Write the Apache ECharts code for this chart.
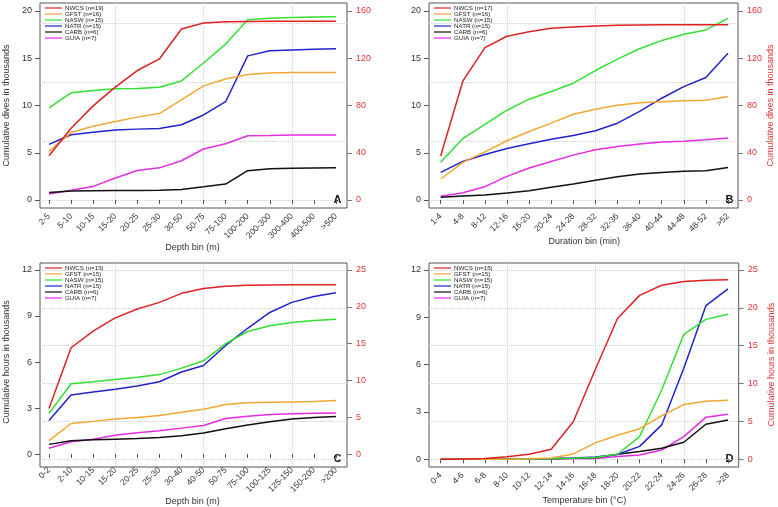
<!DOCTYPE html>
<html>
<head>
<meta charset="utf-8">
<script src="https://cdn.jsdelivr.net/npm/echarts@6/dist/echarts.min.js"></script>
<style>
html,body{margin:0;padding:0;background:#fff;}
#chart{width:778px;height:507px;}
</style>
</head>
<body>
<div id="chart"></div>
<script>
// ---------- categories ----------
var catsA = ['2-5','5-10','10-15','15-20','20-25','25-30','30-50','50-75','75-100','100-200','200-300','300-400','400-500','>500'];
var catsB = ['1-4','4-8','8-12','12-16','16-20','20-24','24-28','28-32','32-36','36-40','40-44','44-48','48-52','>52'];
var catsC = ['0-2','2-10','10-15','15-20','20-25','25-30','30-40','40-50','50-75','75-100','100-125','125-150','150-200','>200'];
var catsD = ['0-4','4-6','6-8','8-10','10-12','12-14','14-16','16-18','18-20','20-22','22-24','24-26','26-28','>28'];

// ---------- legend names ----------
var namesA = ['NWCS (n=19)','GFST (n=16)','NASW (n=15)','NATR (n=15)','CARB (n=6)','GUIA (n=7)'];
var namesB = ['NWCS (n=17)','GFST (n=16)','NASW (n=15)','NATR (n=15)','CARB (n=6)','GUIA (n=7)'];
var namesC = ['NWCS (n=15)','GFST (n=15)','NASW (n=15)','NATR (n=15)','CARB (n=6)','GUIA (n=7)'];
var namesD = ['NWCS (n=15)','GFST (n=15)','NASW (n=15)','NATR (n=15)','CARB (n=6)','GUIA (n=7)'];

// ---------- panel A: cumulative dives (thousands) by depth bin; NWCS on right axis ----------
var nwcsA = [37.5, 60.8, 79.7, 95.5, 109.6, 119.4, 144.8, 149.9, 151, 151.2, 151.3, 151.3, 151.3, 151.3];
var gfstA = [5.15, 7.15, 7.8, 8.3, 8.77, 9.15, 10.6, 12.08, 12.8, 13.27, 13.45, 13.5, 13.5, 13.5];
var naswA = [9.75, 11.34, 11.6, 11.76, 11.8, 11.94, 12.6, 14.5, 16.5, 19.08, 19.22, 19.3, 19.36, 19.4];
var natrA = [5.88, 6.9, 7.18, 7.4, 7.5, 7.57, 7.96, 9.0, 10.4, 15.25, 15.8, 15.88, 15.95, 16.0];
var carbA = [0.8, 0.95, 0.98, 1.0, 1.0, 1.02, 1.12, 1.4, 1.69, 3.1, 3.3, 3.35, 3.38, 3.4];
var guiaA = [0.63, 1.02, 1.44, 2.32, 3.13, 3.4, 4.15, 5.4, 5.95, 6.8, 6.83, 6.87, 6.87, 6.87];

// ---------- panel B: cumulative dives by duration bin ----------
var nwcsB = [37.2, 100.6, 129, 138.6, 142.5, 145.4, 146.5, 147.3, 147.9, 148.1, 148.3, 148.4, 148.4, 148.4];
var gfstB = [2.22, 3.98, 5.1, 6.27, 7.25, 8.13, 9.08, 9.6, 10.03, 10.28, 10.39, 10.5, 10.56, 10.95];
var naswB = [4.0, 6.5, 8.0, 9.5, 10.67, 11.48, 12.36, 13.7, 14.9, 16.0, 16.87, 17.54, 18.0, 19.22];
var natrB = [2.92, 4.08, 4.82, 5.46, 5.95, 6.44, 6.83, 7.32, 8.13, 9.37, 10.77, 12.0, 12.96, 15.53];
var carbB = [0.28, 0.42, 0.53, 0.74, 0.99, 1.34, 1.69, 2.08, 2.46, 2.75, 2.92, 3.03, 3.1, 3.45];
var guiaB = [0.39, 0.77, 1.41, 2.5, 3.38, 4.08, 4.75, 5.32, 5.67, 5.92, 6.13, 6.23, 6.37, 6.55];

// ---------- panel C: cumulative hours by depth bin ----------
var nwcsC = [6.2, 14.44, 16.7, 18.5, 19.7, 20.6, 21.83, 22.5, 22.8, 22.93, 22.97, 22.98, 22.98, 22.98];
var gfstC = [0.87, 1.99, 2.13, 2.28, 2.39, 2.51, 2.73, 2.92, 3.23, 3.34, 3.38, 3.4, 3.42, 3.49];
var naswC = [2.64, 4.58, 4.71, 4.86, 5.0, 5.18, 5.6, 6.08, 7.2, 7.99, 8.37, 8.58, 8.7, 8.79];
var natrC = [2.18, 3.85, 4.04, 4.23, 4.44, 4.71, 5.35, 5.77, 7.08, 8.2, 9.23, 9.89, 10.27, 10.52];
var carbC = [0.63, 0.87, 0.93, 0.97, 1.01, 1.08, 1.2, 1.37, 1.65, 1.9, 2.11, 2.28, 2.39, 2.45];
var guiaC = [0.38, 0.8, 0.97, 1.23, 1.39, 1.52, 1.69, 1.86, 2.32, 2.47, 2.58, 2.62, 2.66, 2.68];

// ---------- panel D: cumulative hours by temperature bin ----------
var nwcsD = [0, 0, 0.09, 0.35, 0.66, 1.32, 4.95, 11.9, 18.6, 21.65, 22.98, 23.48, 23.66, 23.72];
var gfstD = [0, 0, 0, 0.01, 0.03, 0.08, 0.34, 1.04, 1.52, 1.94, 2.76, 3.47, 3.68, 3.74];
var naswD = [0, 0, 0, 0.01, 0.02, 0.04, 0.07, 0.12, 0.32, 1.44, 4.39, 7.92, 8.87, 9.19];
var natrD = [0, 0, 0, 0.02, 0.03, 0.05, 0.09, 0.14, 0.3, 0.82, 2.18, 5.77, 9.74, 10.8];
var carbD = [0, 0, 0, 0.01, 0.02, 0.04, 0.06, 0.1, 0.32, 0.49, 0.7, 1.08, 2.22, 2.49];
var guiaD = [0, 0, 0, 0, 0.01, 0.02, 0.03, 0.05, 0.17, 0.27, 0.59, 1.44, 2.66, 2.85];

// ---------- axis tick settings ----------
var leftAxisAB = {max: 20, interval: 5};
var rightAxisAB = {max: 160, interval: 40};
var leftAxisCD = {max: 12, interval: 3};
var rightAxisCD = {max: 25, interval: 5};

// ---------- styling / layout ----------
var FONT = "'Liberation Sans', Arial, sans-serif";
var COLORS = ['#dd2222', '#f4a633', '#33e033', '#2222cc', '#111111', '#e52ce5'];
var RED = '#e03535';
var GRIDC = '#d0d0d0';

var panels = [
  {cats: catsA, names: namesA, series: [nwcsA, gfstA, naswA, natrA, carbA, guiaA], left: leftAxisAB, right: rightAxisAB,
   gMax: 150, gInt: 50, box: [40, 347, 3, 208], xr: [49, 336], y0: 200, yTop: 11,
   xName: 'Depth bin (m)', lName: 'Cumulative dives in thousands', rName: '', letter: 'A'},
  {cats: catsB, names: namesB, series: [nwcsB, gfstB, naswB, natrB, carbB, guiaB], left: leftAxisAB, right: rightAxisAB,
   gMax: 150, gInt: 50, box: [429, 738, 3, 208], xr: [440.7, 728], y0: 200, yTop: 11,
   xName: 'Duration bin (min)', lName: '', rName: 'Cumulative dives in thousands', letter: 'B'},
  {cats: catsC, names: namesC, series: [nwcsC, gfstC, naswC, natrC, carbC, guiaC], left: leftAxisCD, right: rightAxisCD,
   gMax: 25, gInt: 5, box: [40, 347, 263, 467], xr: [49, 336], y0: 459.3, yTop: 270,
   xName: 'Depth bin (m)', lName: 'Cumulative hours in thousands', rName: '', letter: 'C'},
  {cats: catsD, names: namesD, series: [nwcsD, gfstD, naswD, natrD, carbD, guiaD], left: leftAxisCD, right: rightAxisCD,
   gMax: 25, gInt: 5, box: [429, 738.7, 263, 467], xr: [440.7, 728], y0: 459.3, yTop: 270,
   xName: 'Temperature bin (\u00B0C)', lName: '', rName: 'Cumulative hours in thousands', letter: 'D'}
];

var grids = [], xAxes = [], yAxes = [], series = [], legends = [], graphics = [];
var hidden = {show: false, min: 0, max: 1};
var noDeco = {axisLine: {show: false}, axisTick: {show: false}, axisLabel: {show: false}};

panels.forEach(function (p, pi) {
  var bL = p.box[0], bR = p.box[1], bT = p.box[2], bB = p.box[3];
  var xF = p.xr[0], xL = p.xr[1];
  var gx = pi * 4, gy = pi * 5;
  // 0: plot box
  grids.push({left: bL, top: bT, width: bR - bL, height: bB - bT, show: true, borderColor: '#555', borderWidth: 1, backgroundColor: 'transparent'});
  xAxes.push(Object.assign({type: 'value', gridIndex: gx}, hidden));
  yAxes.push(Object.assign({type: 'value', gridIndex: gx}, hidden));
  // 1: horizontal grid lines (R grid() on right-axis pretty values)
  var hh = (p.gMax / p.right.max) * (p.y0 - p.yTop);
  grids.push({left: bL, top: p.y0 - hh, width: bR - bL, height: hh});
  xAxes.push(Object.assign({type: 'value', gridIndex: gx + 1}, hidden));
  yAxes.push(Object.assign({type: 'value', gridIndex: gx + 1, min: 0, max: p.gMax, interval: p.gInt,
    splitLine: {show: true, lineStyle: {type: 'dotted', color: GRIDC, width: 1}}}, noDeco));
  // 2: vertical grid lines
  grids.push({left: xF, top: bT, width: xL - xF, height: bB - bT});
  xAxes.push(Object.assign({type: 'category', gridIndex: gx + 2, data: p.cats, boundaryGap: false,
    splitLine: {show: true, interval: function (i) { return i % 4 === 3; }, lineStyle: {type: 'dotted', color: GRIDC, width: 1}}}, noDeco));
  yAxes.push(Object.assign({type: 'value', gridIndex: gx + 2}, hidden));
  // 3: data grid
  grids.push({left: xF, top: p.yTop, width: xL - xF, height: p.y0 - p.yTop});
  xAxes.push({type: 'category', gridIndex: gx + 3, data: p.cats, boundaryGap: false, offset: bB - p.y0,
    axisLine: {show: false}, axisTick: {show: true, length: 4, alignWithLabel: true, interval: 0, lineStyle: {color: '#555'}},
    axisLabel: {interval: 0, rotate: 45, fontSize: 8.5, color: '#333', fontFamily: FONT, margin: 7},
    splitLine: {show: false},
    name: p.xName, nameLocation: 'middle', nameGap: 22, nameTextStyle: {fontSize: 9, color: '#333', fontFamily: FONT}});
  yAxes.push({type: 'value', gridIndex: gx + 3, position: 'left', min: 0, max: p.left.max, interval: p.left.interval, offset: xF - bL,
    axisLine: {show: false}, axisTick: {show: true, length: 5, lineStyle: {color: '#555'}},
    axisLabel: {fontSize: 9, color: '#333', fontFamily: FONT, margin: 8}, splitLine: {show: false},
    name: p.lName, nameLocation: 'middle', nameGap: 29, nameTextStyle: {fontSize: 9, color: '#333', fontFamily: FONT}});
  yAxes.push({type: 'value', gridIndex: gx + 3, position: 'right', min: 0, max: p.right.max, interval: p.right.interval, offset: bR - xL,
    axisLine: {show: false}, axisTick: {show: true, length: 5, lineStyle: {color: '#777'}},
    axisLabel: {fontSize: 9, color: RED, fontFamily: FONT, margin: 9}, splitLine: {show: false},
    name: p.rName, nameLocation: 'middle', nameGap: 28, nameTextStyle: {fontSize: 9, color: RED, fontFamily: FONT}});

  // series: draw left-axis ones first, NWCS (right axis) last
  for (var k = 5; k >= 0; k--) {
    series.push({
      type: 'line', name: p.names[k], data: p.series[k],
      xAxisIndex: gx + 3, yAxisIndex: k === 0 ? gy + 4 : gy + 3,
      symbol: 'none', smooth: false, silent: true,
      lineStyle: {width: 1.5, color: COLORS[k]}, itemStyle: {color: COLORS[k]}
    });
  }
  legends.push({
    orient: 'vertical', left: bL + 5, top: bT + 2, data: p.names.map(function (n, i) {
      return {name: n, itemStyle: {color: COLORS[i]}};
    }),
    icon: 'rect', itemWidth: 17, itemHeight: 1.2, itemGap: 0, padding: 0, selectedMode: false,
    textStyle: {fontSize: 6.2, lineHeight: 6, color: '#222', fontFamily: FONT, padding: [0, 0, 0, -2]}
  });
  graphics.push({type: 'text', x: xL + 1.5, y: p.y0, style: {text: p.letter, font: 'bold 11px ' + FONT, fill: '#111', textAlign: 'center', textVerticalAlign: 'middle'}});
});

var chart = echarts.init(document.getElementById('chart'), null, {renderer: 'canvas'});
chart.setOption({
  animation: false,
  backgroundColor: '#fff',
  grid: grids, xAxis: xAxes, yAxis: yAxes, series: series, legend: legends, graphic: graphics
});
</script>
</body>
</html>
